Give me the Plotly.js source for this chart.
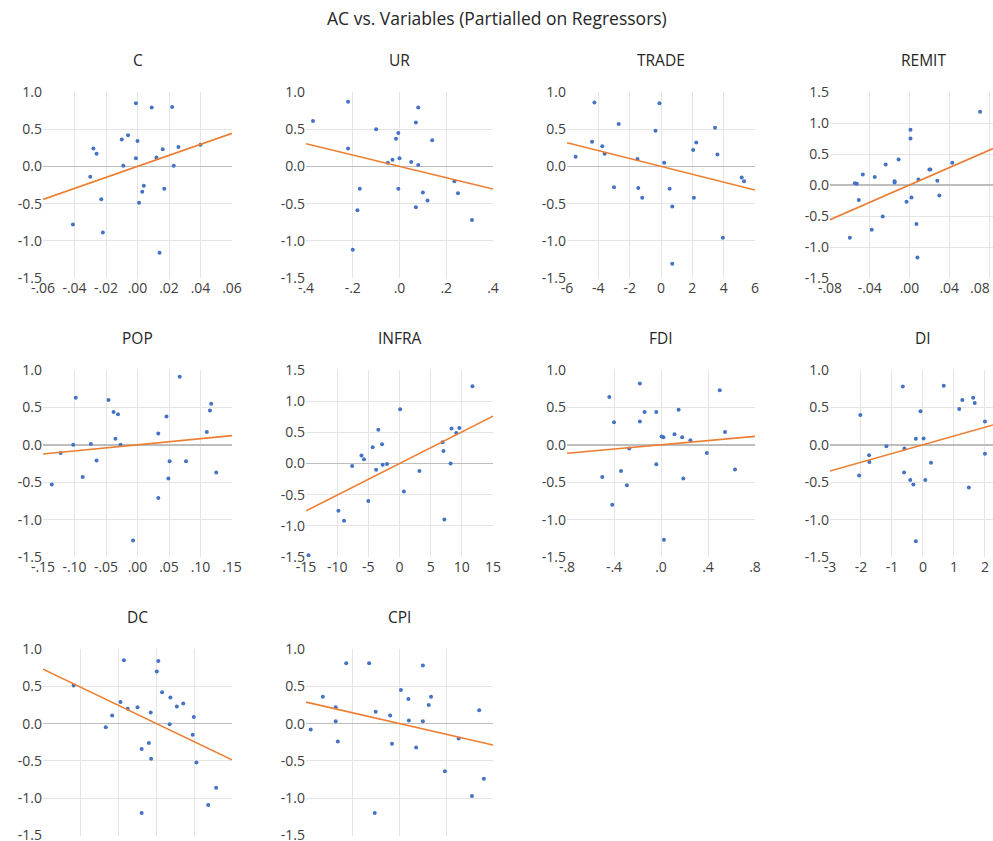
<!DOCTYPE html>
<html><head><meta charset="utf-8">
<script src="https://cdn.plot.ly/plotly-3.0.1.min.js"></script>
<style>body{margin:0;background:#fff}#chart{width:993px;height:841px}</style>
</head><body><div id="chart"></div>
<script>
// ---- data ----
const names = ['C','UR','TRADE','REMIT','POP','INFRA','FDI','DI','DC','CPI'];

const C_x = [-0.001, 0.009, 0.022, -0.006, -0.010, 0.000, -0.028, -0.026, 0.016, 0.026, 0.040, 0.012, -0.001, -0.009, 0.023, -0.030, 0.004, 0.003, 0.017, -0.023, 0.001, -0.041, -0.022, 0.014];
const C_y = [0.85, 0.79, 0.80, 0.42, 0.36, 0.34, 0.24, 0.17, 0.23, 0.26, 0.29, 0.12, 0.11, 0.01, 0.01, -0.14, -0.26, -0.34, -0.30, -0.44, -0.49, -0.78, -0.89, -1.16];

const UR_x = [-0.37, -0.22, 0.08, 0.07, -0.10, -0.005, -0.015, 0.14, -0.22, -0.03, 0.0, -0.05, 0.05, 0.08, -0.17, -0.005, 0.10, 0.235, 0.25, 0.12, -0.18, 0.07, 0.31, -0.20];
const UR_y = [0.61, 0.87, 0.79, 0.59, 0.50, 0.45, 0.37, 0.35, 0.24, 0.09, 0.11, 0.05, 0.06, 0.02, -0.30, -0.30, -0.35, -0.20, -0.36, -0.46, -0.59, -0.55, -0.72, -1.12];

const TRADE_x = [-4.25, -0.1, -2.7, -0.35, 3.45, -4.4, 2.25, 2.05, -3.75, -3.6, 3.6, -5.45, -1.5, 0.2, -3.0, -1.45, 0.55, -1.2, 2.1, 0.72, 3.95, 0.72, 5.15, 5.3];
const TRADE_y = [0.86, 0.85, 0.57, 0.48, 0.52, 0.33, 0.32, 0.22, 0.27, 0.17, 0.16, 0.13, 0.10, 0.05, -0.28, -0.29, -0.30, -0.42, -0.42, -0.54, -0.96, -1.31, -0.15, -0.20];

const REMIT_x = [0.071, 0.001, 0.001, -0.011, -0.024, 0.043, 0.020, 0.021, -0.047, -0.035, 0.009, -0.015, -0.015, 0.028, -0.055, -0.053, 0.030, 0.002, -0.003, -0.051, -0.027, 0.007, -0.038, -0.060, 0.008];
const REMIT_y = [1.18, 0.89, 0.75, 0.41, 0.33, 0.36, 0.25, 0.25, 0.17, 0.13, 0.09, 0.06, 0.04, 0.07, 0.03, 0.02, -0.17, -0.20, -0.27, -0.24, -0.51, -0.63, -0.72, -0.85, -1.17];

const POP_x = [0.067, -0.098, -0.046, 0.117, 0.115, -0.038, -0.031, 0.046, 0.110, 0.033, -0.035, -0.102, -0.074, -0.027, -0.122, -0.065, 0.051, 0.077, 0.125, -0.087, 0.049, -0.136, 0.033, -0.007];
const POP_y = [0.91, 0.63, 0.60, 0.55, 0.46, 0.44, 0.41, 0.38, 0.17, 0.15, 0.08, 0.00, 0.01, 0.00, -0.11, -0.21, -0.22, -0.22, -0.37, -0.43, -0.45, -0.53, -0.71, -1.28];

const INFRA_x = [11.7, 0.1, 9.6, 8.35, -3.4, 9.1, -4.3, -2.8, 6.9, 7.05, -6.1, -5.7, -7.6, -2.7, -2.0, 8.2, -3.75, 3.2, 0.7, -5.0, -9.8, -8.9, 7.2, -14.6];
const INFRA_y = [1.24, 0.87, 0.57, 0.56, 0.54, 0.49, 0.26, 0.31, 0.34, 0.20, 0.13, 0.07, -0.04, -0.02, -0.01, 0.00, -0.10, -0.12, -0.45, -0.60, -0.76, -0.92, -0.90, -1.47];

const FDI_x = [-0.18, 0.50, -0.44, 0.15, -0.14, -0.04, -0.40, -0.18, 0.545, 0.115, 0.005, 0.02, 0.18, 0.25, -0.27, 0.39, -0.04, 0.63, -0.50, -0.34, 0.19, -0.29, -0.415, 0.025];
const FDI_y = [0.82, 0.73, 0.64, 0.47, 0.44, 0.44, 0.30, 0.31, 0.17, 0.14, 0.11, 0.10, 0.10, 0.06, -0.05, -0.11, -0.26, -0.33, -0.43, -0.35, -0.45, -0.54, -0.80, -1.27];

const DI_x = [0.67, -0.65, 1.62, 1.27, 1.67, 1.17, -0.08, -2.02, 2.0, -0.23, 0.02, -1.18, -0.60, -1.74, 2.0, -1.73, 0.26, -0.61, -2.06, -0.41, 0.075, -0.31, 1.48, -0.23];
const DI_y = [0.79, 0.78, 0.63, 0.60, 0.56, 0.48, 0.45, 0.40, 0.31, 0.08, 0.085, -0.02, -0.05, -0.14, -0.12, -0.23, -0.24, -0.37, -0.41, -0.47, -0.47, -0.53, -0.57, -1.29];

const DC_x = [-0.086, 0.005, 0.001, -0.219, 0.015, 0.037, -0.095, 0.071, 0.054, -0.050, -0.076, -0.015, -0.117, 0.099, 0.035, -0.134, 0.096, -0.020, -0.039, -0.014, 0.106, 0.158, 0.137, -0.039];
const DC_y = [0.85, 0.84, 0.70, 0.51, 0.42, 0.35, 0.29, 0.27, 0.23, 0.22, 0.20, 0.15, 0.11, 0.09, -0.01, -0.05, -0.15, -0.26, -0.34, -0.47, -0.52, -0.86, -1.09, -1.20];

const CPI_x = [-11.4, -6.5, 5.0, 0.3, -16.4, 6.75, 1.9, 6.25, -13.65, 17.05, -5.1, -2.0, -13.65, 2.0, 5.0, -19.0, 12.65, -13.2, -1.6, 3.55, 9.7, 18.05, 15.5, -5.3];
const CPI_y = [0.81, 0.81, 0.78, 0.45, 0.36, 0.36, 0.33, 0.25, 0.22, 0.18, 0.16, 0.11, 0.03, 0.04, 0.03, -0.08, -0.20, -0.24, -0.27, -0.32, -0.64, -0.74, -0.97, -1.20];

// fitted partial-regression slopes (lines pass through the origin)
const slopes = [7.4, -0.76, -0.053, 7.0, 0.82, 0.0507, 0.14, 0.117, -2.43, -0.0144];

// tick labels
const C_ticks = [-0.06, -0.04, -0.02, 0, 0.02, 0.04, 0.06];
const C_tickText = ['-.06', '-.04', '-.02', '.00', '.02', '.04', '.06'];
const UR_ticks = [-0.4, -0.2, 0, 0.2, 0.4];
const UR_tickText = ['-.4', '-.2', '.0', '.2', '.4'];
const TRADE_ticks = [-6, -4, -2, 0, 2, 4, 6];
const TRADE_tickText = ['-6', '-4', '-2', '0', '2', '4', '6'];
const REMIT_ticks = [-0.08, -0.04, 0, 0.04, 0.08];
const REMIT_tickText = ['-.08', '-.04', '.00', '.04', '.08'];
const POP_ticks = [-0.15, -0.10, -0.05, 0, 0.05, 0.10, 0.15];
const POP_tickText = ['-.15', '-.10', '-.05', '.00', '.05', '.10', '.15'];
const INFRA_ticks = [-15, -10, -5, 0, 5, 10, 15];
const INFRA_tickText = ['-15', '-10', '-5', '0', '5', '10', '15'];
const FDI_ticks = [-0.8, -0.4, 0, 0.4, 0.8];
const FDI_tickText = ['-.8', '-.4', '.0', '.4', '.8'];
const DI_ticks = [-3, -2, -1, 0, 1, 2];
const DI_tickText = ['-3', '-2', '-1', '0', '1', '2'];
const DC_ticks = [-0.3, -0.2, -0.1, 0, 0.1, 0.2];
const DC_tickText = ['-.3', '-.2', '-.1', '.0', '.1', '.2'];
const CPI_ticks = [-20, -10, 0, 10, 20];
const CPI_tickText = ['-20', '-10', '0', '10', '20'];

const Y_ticks = [-1.5, -1.0, -0.5, 0, 0.5, 1.0];
const Y_tickText = ['-1.5', '-1.0', '-0.5', '0.0', '0.5', '1.0'];
const Y15_ticks = [-1.5, -1.0, -0.5, 0, 0.5, 1.0, 1.5];
const Y15_tickText = ['-1.5', '-1.0', '-0.5', '0.0', '0.5', '1.0', '1.5'];

// ---- panels ----
const panels = [
  {x: C_x, y: C_y, xt: C_ticks, xl: C_tickText, xr: [-0.06, 0.06], yt: Y_ticks, yl: Y_tickText, yr: [-1.5, 1.0]},
  {x: UR_x, y: UR_y, xt: UR_ticks, xl: UR_tickText, xr: [-0.4, 0.4], yt: Y_ticks, yl: Y_tickText, yr: [-1.5, 1.0]},
  {x: TRADE_x, y: TRADE_y, xt: TRADE_ticks, xl: TRADE_tickText, xr: [-6, 6], yt: Y_ticks, yl: Y_tickText, yr: [-1.5, 1.0]},
  // the last REMIT label sits at the page edge; it is drawn nudged inward below
  {x: REMIT_x, y: REMIT_y, xt: REMIT_ticks, xl: REMIT_tickText.map((t, k) => k === REMIT_tickText.length - 1 ? '' : t),
   xr: [-0.08, 0.084], yt: Y15_ticks, yl: Y15_tickText, yr: [-1.5, 1.5]},
  {x: POP_x, y: POP_y, xt: POP_ticks, xl: POP_tickText, xr: [-0.15, 0.15], yt: Y_ticks, yl: Y_tickText, yr: [-1.5, 1.0]},
  {x: INFRA_x, y: INFRA_y, xt: INFRA_ticks, xl: INFRA_tickText, xr: [-15, 15], yt: Y15_ticks, yl: Y15_tickText, yr: [-1.5, 1.5]},
  {x: FDI_x, y: FDI_y, xt: FDI_ticks, xl: FDI_tickText, xr: [-0.8, 0.8], yt: Y_ticks, yl: Y_tickText, yr: [-1.5, 1.0]},
  {x: DI_x, y: DI_y, xt: DI_ticks, xl: DI_tickText, xr: [-3, 2.26], yt: Y_ticks, yl: Y_tickText, yr: [-1.5, 1.0]},
  {x: DC_x, y: DC_y, xt: DC_ticks, xl: DC_tickText, xr: [-0.3, 0.2], yt: Y_ticks, yl: Y_tickText, yr: [-1.5, 1.0]},
  {x: CPI_x, y: CPI_y, xt: CPI_ticks, xl: CPI_tickText, xr: [-20, 20], yt: Y_ticks, yl: Y_tickText, yr: [-1.5, 1.0]}
];

const W = 993, H = 841;
const colL = [43, 306, 567, 830], colR = [232, 493, 755, 993];
const rowT = [92, 370, 649], rowB = [278, 557, 835.5];
const titleX = [137.5, 399.5, 661, 923];
const titleY = [60, 338, 617];

const FONT = '"Open Sans", "Noto Sans", sans-serif';
const traces = [];
const layout = {
  width: W, height: H,
  margin: {l: 0, r: 0, t: 0, b: 0},
  paper_bgcolor: '#ffffff', plot_bgcolor: '#ffffff',
  showlegend: false,
  font: {family: FONT, size: 14, color: '#404040'},
  annotations: [{
    text: 'AC vs. Variables (Partialled on Regressors)',
    xref: 'paper', yref: 'paper', x: 497 / W, y: 1 - 18 / H,
    xanchor: 'center', yanchor: 'middle', showarrow: false,
    font: {family: FONT, size: 17.5, color: '#262626'}
  }, {
    // edge tick label of REMIT, kept inside the page as in the reference
    text: REMIT_tickText[REMIT_tickText.length - 1], xref: 'paper', yref: 'paper',
    x: 992 / W, y: 1 - 288 / H, xanchor: 'right', yanchor: 'middle', showarrow: false,
    font: {family: FONT, size: 14, color: '#404040'}
  }]
};

panels.forEach((p, i) => {
  const row = Math.floor(i / 4), col = i % 4;
  const n = i + 1;
  const xa = 'x' + (n === 1 ? '' : n), ya = 'y' + (n === 1 ? '' : n);
  const xk = 'xaxis' + (n === 1 ? '' : n), yk = 'yaxis' + (n === 1 ? '' : n);

  traces.push({
    type: 'scatter', mode: 'markers', x: p.x, y: p.y, xaxis: xa, yaxis: ya,
    marker: {size: 4, color: '#4472C4'}, hoverinfo: 'x+y'
  });
  traces.push({
    type: 'scatter', mode: 'lines', x: p.xr, y: p.xr.map(v => slopes[i] * v),
    xaxis: xa, yaxis: ya, line: {color: '#ED7D31', width: 1.6}, hoverinfo: 'skip'
  });

  layout[xk] = {
    domain: [colL[col] / W, colR[col] / W], anchor: ya, range: p.xr,
    tickmode: 'array', tickvals: p.xt, ticktext: p.xl,
    showgrid: true, gridcolor: '#e5e5e5', gridwidth: 1,
    zeroline: false, showline: false, ticks: '', fixedrange: true,
    ticklabeloverflow: 'allow',
    tickfont: {family: FONT, size: 14, color: '#404040'}
  };
  layout[yk] = {
    domain: [1 - rowB[row] / H, 1 - rowT[row] / H], anchor: xa, range: p.yr,
    tickmode: 'array', tickvals: p.yt, ticktext: p.yl,
    showgrid: true, gridcolor: '#e5e5e5', gridwidth: 1,
    zeroline: true, zerolinecolor: '#bdbdbd', zerolinewidth: 1.5,
    showline: false, ticks: '', fixedrange: true,
    ticklabeloverflow: 'allow',
    tickfont: {family: FONT, size: 14, color: '#404040'}
  };
  layout.annotations.push({
    text: names[i], xref: 'paper', yref: 'paper',
    x: titleX[col] / W, y: 1 - titleY[row] / H,
    xanchor: 'center', yanchor: 'middle', showarrow: false,
    font: {family: FONT, size: 15.5, color: '#262626'}
  });
});

Plotly.newPlot('chart', traces, layout, {staticPlot: true, displayModeBar: false});
</script>
</body></html>
